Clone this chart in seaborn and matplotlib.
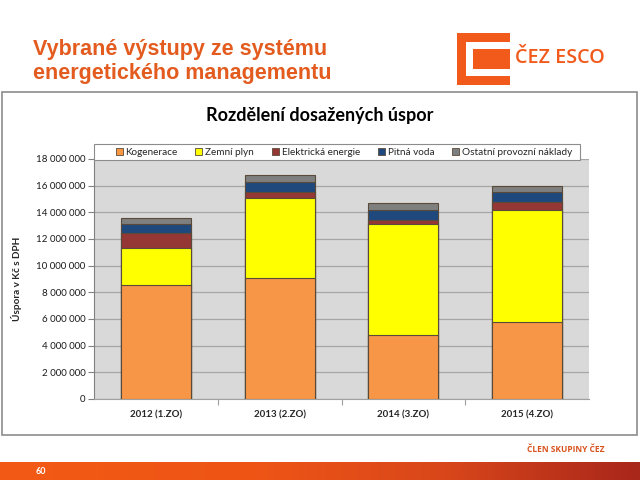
import numpy as np
import pandas as pd
import matplotlib
matplotlib.use("Agg")
import matplotlib.pyplot as plt
import seaborn as sns
from matplotlib.patches import Rectangle, Patch
from matplotlib.ticker import FuncFormatter, FixedLocator
from matplotlib.colors import LinearSegmentedColormap

# ---- data ----
categories = ["2012 (1.ZO)", "2013 (2.ZO)", "2014 (3.ZO)", "2015 (4.ZO)"]
kogenerace = [8.53e6, 9.04e6, 4.82e6, 5.78e6]
zemni_plyn = [2.82e6, 6.02e6, 8.33e6, 8.38e6]
elektricka = [1.13e6, 0.43e6, 0.31e6, 0.58e6]
pitna_voda = [0.67e6, 0.80e6, 0.72e6, 0.75e6]
ostatni = [0.45e6, 0.50e6, 0.50e6, 0.50e6]
series_names = ["Kogenerace", "Zemní plyn", "Elektrická energie", "Pitná voda",
                "Ostatní provozní náklady"]
colors = ["#f79646", "#ffff00", "#953735", "#1f497d", "#7f7f7f"]
yticks = list(range(0, 18000001, 2000000))

sns.set_theme(style="white")
plt.rcParams['font.family'] = ['Lato', 'DejaVu Sans']

W, H = 640, 480
fig = plt.figure(figsize=(6.4, 4.8), dpi=100)
fig.patch.set_facecolor("white")

def fx(x):
    return x / W

def fy(y):
    return 1 - y / H

orange_txt = "#e35b1e"

# slide title
fig.text(fx(33), fy(49), "Vybrané výstupy ze systému", family="Liberation Sans",
         fontweight="bold", fontsize=15.5, color=orange_txt, va="center", ha="left")
fig.text(fx(33), fy(73), "energetického managementu", family="Liberation Sans",
         fontweight="bold", fontsize=15.5, color=orange_txt, va="center", ha="left")

# logo
logo_col = "#f15a1b"
fig.patches.append(Rectangle((fx(457), fy(85)), fx(53), 52 / H, transform=fig.transFigure,
                             facecolor=logo_col, edgecolor="none"))
fig.patches.append(Rectangle((fx(466), fy(76)), fx(44), 34 / H, transform=fig.transFigure,
                             facecolor="white", edgecolor="none"))
fig.patches.append(Rectangle((fx(473), fy(69)), fx(37), 20 / H, transform=fig.transFigure,
                             facecolor=logo_col, edgecolor="none"))
fig.text(fx(515), fy(58), "ČEZ ESCO", family="Open Sans", fontsize=14.2,
         fontweight="semibold", color=logo_col, va="center", ha="left")

# chart frame (behind axes)
fig.patches.append(Rectangle((fx(2), fy(435)), fx(635), 343 / H, transform=fig.transFigure,
                             facecolor="white", edgecolor="#8c8c8c", linewidth=1.2,
                             zorder=-10))
fig.text(fx(320), fy(115), "Rozdělení dosažených úspor", fontsize=13, fontweight="bold",
         color="black", ha="center", va="center")

# axes
AX_L, AX_R = 94, 589
ax = fig.add_axes([fx(AX_L), fy(399), fx(AX_R - AX_L), 240 / H])
ax.set_zorder(5)
ax.set_facecolor("#d9d9d9")

df = pd.DataFrame({"cat": categories, "k": kogenerace, "z": zemni_plyn,
                   "e": elektricka, "p": pitna_voda, "o": ostatni})
cum_cols = []
running = np.zeros(len(categories))
for col in ["k", "z", "e", "p", "o"]:
    running = running + df[col].to_numpy()
    cname = "cum_" + col
    df[cname] = running
    cum_cols.append(cname)

for cname, c in reversed(list(zip(cum_cols, colors))):
    sns.barplot(data=df, x="cat", y=cname, color=c, saturation=1, width=0.566,
                edgecolor="#5a4a3a", linewidth=0.8, ax=ax, zorder=3)

ax.set_ylim(0, 18000000)
ax.set_xlim(-0.5, 3.5)
ax.yaxis.set_major_locator(FixedLocator(yticks))
ax.yaxis.set_major_formatter(FuncFormatter(lambda v, p: f"{int(v):,}".replace(",", " ")))
ax.grid(axis="y", color="#a6a6a6", linewidth=0.9, zorder=0)
ax.set_axisbelow(True)
ax.tick_params(axis="y", labelsize=7, length=4, width=0.8, color="#808080",
               left=True, pad=2, labelcolor="#1a1a1a")
ax.tick_params(axis="x", which="major", length=0, labelsize=7, pad=8)
ax.set_xticks([0, 1, 2, 3])
ax.set_xticklabels(categories, fontweight="bold")
ax.set_xticks([0.5, 1.5, 2.5], minor=True)
ax.tick_params(axis="x", which="minor", length=4, width=0.8, color="#a0a0a0", bottom=True)
ax.set_xlabel("")
ax.set_ylabel("Úspora v Kč s DPH", fontsize=7.2, fontweight="bold")
for s in ["top", "right"]:
    ax.spines[s].set_visible(False)
ax.spines["left"].set_color("#808080")
ax.spines["bottom"].set_color("#a0a0a0")
ax.spines["left"].set_linewidth(0.8)
ax.spines["bottom"].set_linewidth(0.8)
ax.yaxis.set_label_coords((22 - AX_L) / (AX_R - AX_L), 0.5)

# legend box + entries
fig.patches.append(Rectangle((fx(AX_L), fy(160)), fx(580 - AX_L), 16 / H,
                             transform=fig.transFigure, facecolor="white",
                             edgecolor="#8c8c8c", linewidth=0.8, zorder=8))
handles = [Patch(facecolor=c, edgecolor="#5a4a3a", linewidth=0.6) for c in colors]
leg = fig.legend(handles, series_names, loc="lower left", ncol=5, mode="expand",
                 bbox_to_anchor=(fx(113), fy(160), fx(575 - 113), 16 / H), borderaxespad=0,
                 fontsize=7.2, handlelength=0.7, handleheight=0.7, handletextpad=0.3,
                 frameon=False, borderpad=0.25, columnspacing=1.0)
leg.set_zorder(10)

# footer
fig.text(fx(605), fy(449), "ČLEN SKUPINY ČEZ", fontsize=6, fontweight="bold",
         color="#d9531e", ha="right", va="center", family="Open Sans")
grad = np.linspace(0, 1, 256).reshape(1, -1)
gax = fig.add_axes([0, 0, 1, 18 / H])
cmap = LinearSegmentedColormap.from_list("g", [(0, "#f25a14"), (0.4, "#ee5516"),
                                               (0.7, "#d8461a"), (1, "#a8261a")])
gax.imshow(grad, aspect="auto", cmap=cmap, extent=[0, 1, 0, 1])
gax.set_axis_off()
gax.text(36 / W, 0.5, "60", color="white", fontsize=6.5, fontweight="bold",
         va="center", ha="left", transform=gax.transAxes)

fig.savefig("out.png", dpi=100)
